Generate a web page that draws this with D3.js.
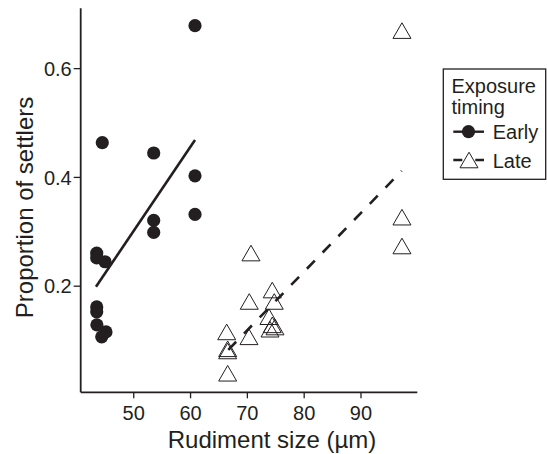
<!doctype html>
<html>
<head>
<meta charset="utf-8"/>
<script src="https://d3js.org/d3.v7.min.js"></script>
<style>
  body { margin:0; background:#fff; }
  text { font-family: "Liberation Sans", Arial, Helvetica, sans-serif; fill:#231f20; }
</style>
</head>
<body>
<script>
// Early exposure: rudiment size (um) vs proportion of settlers
var earlyX = [60.87, 44.55, 53.6, 60.87, 60.87, 53.6, 53.6, 43.57, 43.57, 45.03, 43.57, 43.57, 43.6, 45.2, 44.45];
var earlyY = [0.678, 0.463, 0.444, 0.402, 0.331, 0.320, 0.298, 0.260, 0.251, 0.244, 0.161, 0.152, 0.128, 0.115, 0.106];
// Late exposure
var lateX = [97.3, 97.3, 97.3, 70.72, 74.47, 74.82, 70.42, 73.89, 74.47, 74.95, 74.07, 70.37, 66.45, 66.62, 66.62, 66.62];
var lateY = [0.669, 0.326, 0.273, 0.260, 0.192, 0.171, 0.171, 0.143, 0.128, 0.124, 0.120, 0.106, 0.115, 0.084, 0.080, 0.039];
// fitted lines (end points)
var earlyFitX = [43.44, 60.87], earlyFitY = [0.198, 0.468];
var lateFitX = [66.73, 97.25],  lateFitY = [0.082, 0.411];

var xTicks = [50, 60, 70, 80, 90];
var yTicks = [0.2, 0.4, 0.6];
var groups = ["Early", "Late"];

var W = 547, H = 454;
var mLeft = 80.7, mRight = 417.3, mTop = 8.3, mBottom = 392.3;
var ink = "#231f20";

var svg = d3.select("body").append("svg").attr("width", W).attr("height", H);

var x = d3.scaleLinear().domain([40.75, 100]).range([mLeft, mRight]);
var y = d3.scaleLinear().domain([0.004, 0.71]).range([mBottom, mTop]);

// axes
var xAxis = svg.append("g").attr("transform", "translate(0," + mBottom + ")")
  .call(d3.axisBottom(x).tickValues(xTicks).tickSize(6).tickPadding(5).tickFormat(d3.format("d")));
var yAxis = svg.append("g").attr("transform", "translate(" + mLeft + ",0)")
  .call(d3.axisLeft(y).tickValues(yTicks).tickSize(7).tickPadding(2).tickFormat(d3.format(".1f")));

[xAxis, yAxis].forEach(function(g){
  g.select(".domain").attr("stroke", ink).attr("stroke-width", 1.8);
  g.selectAll(".tick line").attr("stroke", ink).attr("stroke-width", 1.3);
  g.selectAll(".tick text").style("font-size", "20px").attr("fill", ink);
});
xAxis.selectAll(".tick text").attr("dy", "0.85em");
yAxis.selectAll(".tick text").attr("dy", "0.36em");
// domain without end caps
xAxis.select(".domain").attr("d", "M" + mLeft + ",0H" + mRight);
yAxis.select(".domain").attr("d", "M0," + mTop + "V" + mBottom);

// axis titles
svg.append("text").attr("x", 272).attr("y", 448).attr("text-anchor", "middle")
  .style("font-size", "24px").text("Rudiment size (\u00b5m)");
svg.append("text").attr("transform", "translate(33,207.5) rotate(-90)").attr("text-anchor", "middle")
  .style("font-size", "24px").text("Proportion of settlers");

// fit lines
var line = d3.line().x(function(d){ return x(d[0]); }).y(function(d){ return y(d[1]); });
svg.append("path").datum(d3.zip(earlyFitX, earlyFitY)).attr("d", line)
  .attr("fill", "none").attr("stroke", ink).attr("stroke-width", 2.6);
svg.append("path").datum(d3.zip(lateFitX, lateFitY)).attr("d", line)
  .attr("fill", "none").attr("stroke", ink).attr("stroke-width", 2.6)
  .attr("stroke-dasharray", "11.3,11.3");

// triangle path centred on its bounding box
function tri(cx, cy, s) {
  var h = s * Math.sqrt(3) / 2;
  return "M" + cx + "," + (cy - h/2) + "L" + (cx + s/2) + "," + (cy + h/2) + "L" + (cx - s/2) + "," + (cy + h/2) + "Z";
}

svg.selectAll(".early").data(d3.zip(earlyX, earlyY)).enter().append("circle")
  .attr("class", "early")
  .attr("cx", function(d){ return x(d[0]); })
  .attr("cy", function(d){ return y(d[1]); })
  .attr("r", 6.6).attr("fill", ink);

svg.selectAll(".late").data(d3.zip(lateX, lateY)).enter().append("path")
  .attr("class", "late")
  .attr("d", function(d){ return tri(x(d[0]), y(d[1]), 18); })
  .attr("fill", "none").attr("stroke", ink).attr("stroke-width", 1);

// legend
var lg = svg.append("g");
lg.append("rect").attr("x", 443.3).attr("y", 69).attr("width", 102.4).attr("height", 110.3)
  .attr("fill", "none").attr("stroke", ink).attr("stroke-width", 1.3);
lg.append("text").attr("x", 451.5).attr("y", 92.5).style("font-size", "20px").text("Exposure");
lg.append("text").attr("x", 451.5).attr("y", 113.5).style("font-size", "20px").text("timing");

groups.forEach(function(g, i){
  var cy = 131.7 + i * 28.3;
  var row = lg.append("g");
  row.append("line").attr("x1", 453.3).attr("x2", 484).attr("y1", cy).attr("y2", cy)
    .attr("stroke", ink).attr("stroke-width", 2.4)
    .attr("stroke-dasharray", i === 1 ? "9,13" : null);
  if (i === 0) {
    row.append("circle").attr("cx", 468.5).attr("cy", cy).attr("r", 6.6).attr("fill", ink);
  } else {
    row.append("path").attr("d", tri(469, cy, 18)).attr("fill", "none").attr("stroke", ink).attr("stroke-width", 1);
  }
  row.append("text").attr("x", 492.7).attr("y", cy + 7.5).style("font-size", "20px").text(g);
});
</script>
</body>
</html>
